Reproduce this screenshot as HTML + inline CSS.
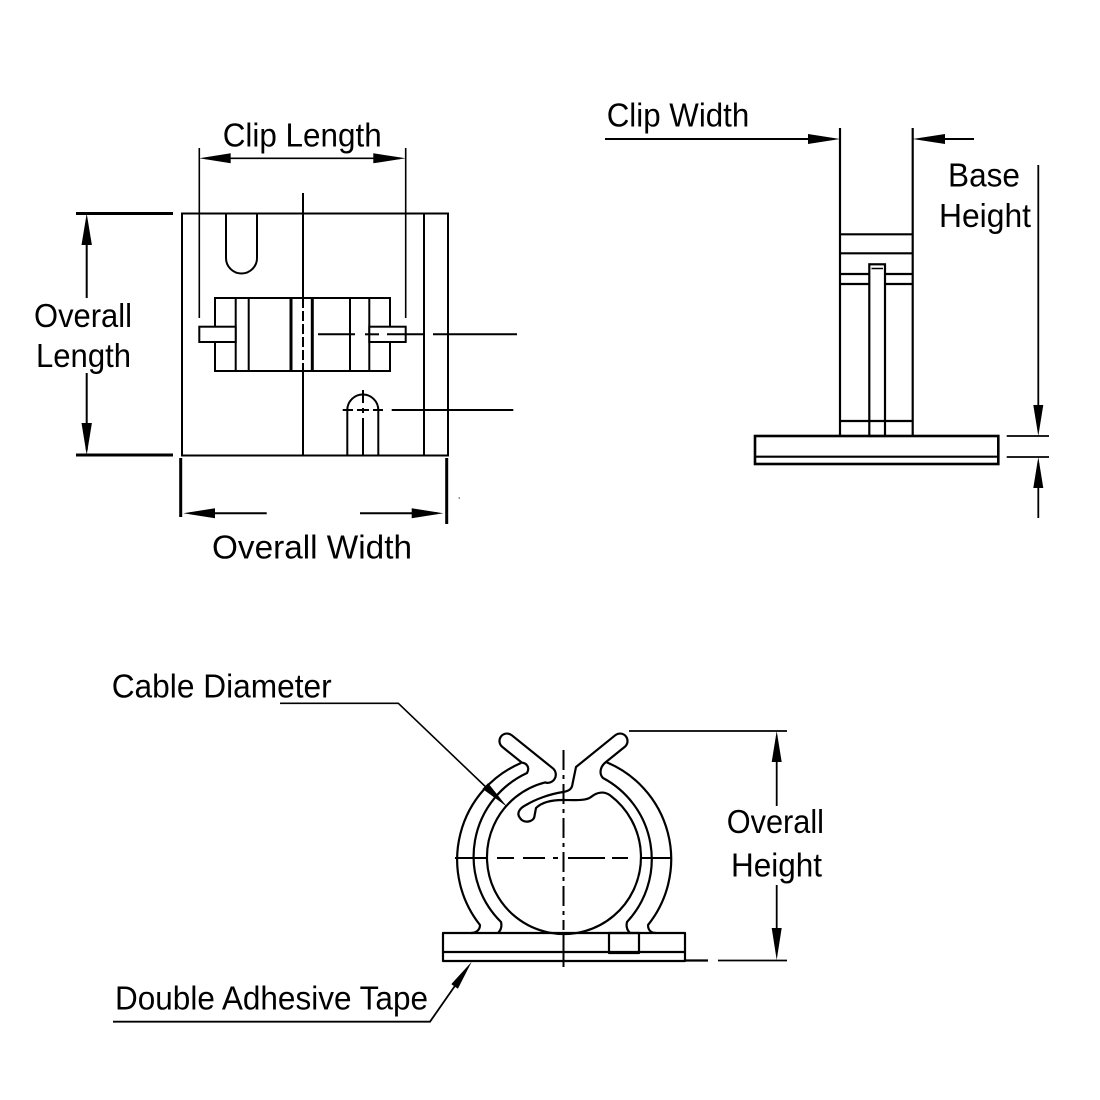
<!DOCTYPE html>
<html>
<head>
<meta charset="utf-8">
<style>
html,body{margin:0;padding:0;background:#fff;}
svg{display:block;}
text{font-family:"Liberation Sans",Arial,sans-serif;font-size:33px;fill:#000;}
</style>
</head>
<body>
<svg width="1100" height="1100" viewBox="0 0 1100 1100" xmlns="http://www.w3.org/2000/svg">
<rect width="1100" height="1100" fill="#fff"/>

<!-- ================= TOP-LEFT VIEW ================= -->
<g stroke="#000" fill="none" stroke-width="2">
  <rect x="182" y="213.5" width="266" height="242"/>
  <line x1="424" y1="213.5" x2="424" y2="455.5"/>
  <!-- center vertical -->
  <line x1="303" y1="193" x2="303" y2="298"/>
  <line x1="303" y1="371" x2="303" y2="455.5"/>
  <!-- top slot -->
  <path d="M226 213.5 V258 A15.5 15.5 0 0 0 257 258 V213.5"/>
  <!-- bottom slot -->
  <path d="M347.3 455.5 V410 A15.5 15.5 0 0 1 378.3 410 V455.5"/>
  <!-- block -->
  <rect x="215" y="298" width="175" height="73" fill="#fff"/>
  <line x1="235.7" y1="298" x2="235.7" y2="371"/>
  <line x1="248.7" y1="298" x2="248.7" y2="371"/>
  <line x1="350" y1="298" x2="350" y2="371"/>
  <line x1="369.3" y1="298" x2="369.3" y2="371"/>
  <line x1="291" y1="298" x2="291" y2="371" stroke-width="3"/>
  <line x1="312.3" y1="298" x2="312.3" y2="371" stroke-width="3"/>
  <line x1="303" y1="298" x2="303" y2="371" stroke-dasharray="10 3"/>
  <!-- tabs -->
  <rect x="199.3" y="326.7" width="36.4" height="15.3" fill="#fff"/>
  <rect x="369.3" y="326.7" width="36.4" height="15.3" fill="#fff"/>
  <!-- dashed center line through block -->
  <line x1="318" y1="334.3" x2="355" y2="334.3"/>
  <line x1="365" y1="334.3" x2="379" y2="334.3"/>
  <line x1="387" y1="334.3" x2="425" y2="334.3"/>
  <line x1="433" y1="334.3" x2="517" y2="334.3"/>
  <!-- bottom slot center lines -->
  <line x1="363" y1="390" x2="363" y2="403"/>
  <line x1="363" y1="408" x2="363" y2="413"/>
  <line x1="363" y1="418" x2="363" y2="455.5"/>
  <line x1="342.7" y1="410" x2="353" y2="410"/>
  <line x1="357" y1="410" x2="369" y2="410"/>
  <line x1="373" y1="410" x2="383" y2="410"/>
  <line x1="391.7" y1="410" x2="513.3" y2="410"/>
</g>

<!-- Clip Length dimension -->
<g stroke="#000" fill="none" stroke-width="1.6">
  <line x1="199.3" y1="148" x2="199.3" y2="318"/>
  <line x1="405.7" y1="148" x2="405.7" y2="318"/>
  <line x1="205" y1="158.3" x2="400" y2="158.3"/>
</g>
<polygon points="199.3,158.3 230.7,153.3 230.7,163.3" fill="#000"/>
<polygon points="405.7,158.3 373.3,153.3 373.3,163.3" fill="#000"/>
<text x="222.7" y="146.7" textLength="159" lengthAdjust="spacingAndGlyphs">Clip Length</text>

<!-- Overall Length dimension -->
<g stroke="#000" fill="none">
  <line x1="76" y1="213.5" x2="173" y2="213.5" stroke-width="3"/>
  <line x1="76" y1="455" x2="173" y2="455" stroke-width="3"/>
  <line x1="86.7" y1="220" x2="86.7" y2="298" stroke-width="2"/>
  <line x1="86.7" y1="373" x2="86.7" y2="450" stroke-width="2"/>
</g>
<polygon points="86.7,213.5 81.5,245 91.9,245" fill="#000"/>
<polygon points="86.7,455 81.5,423 91.9,423" fill="#000"/>
<text x="34" y="327" textLength="98" lengthAdjust="spacingAndGlyphs">Overall</text>
<text x="36" y="367" textLength="95" lengthAdjust="spacingAndGlyphs">Length</text>

<!-- Overall Width dimension -->
<g stroke="#000" fill="none">
  <line x1="180.7" y1="458" x2="180.7" y2="517" stroke-width="3"/>
  <line x1="446.7" y1="458" x2="446.7" y2="524" stroke-width="3"/>
  <line x1="190" y1="513.3" x2="266.7" y2="513.3" stroke-width="2"/>
  <line x1="360" y1="513.3" x2="437" y2="513.3" stroke-width="2"/>
</g>
<polygon points="183.3,513.3 215,508.3 215,518.3" fill="#000"/>
<polygon points="443.3,513.3 411.7,508.3 411.7,518.3" fill="#000"/>
<circle cx="459.3" cy="498" r="0.8" fill="#555"/>
<text x="212" y="558.3" textLength="200" lengthAdjust="spacingAndGlyphs">Overall Width</text>

<!-- ================= TOP-RIGHT VIEW ================= -->
<g stroke="#000" fill="none" stroke-width="2.2">
  <line x1="840" y1="128" x2="840" y2="436"/>
  <line x1="912.7" y1="128" x2="912.7" y2="436"/>
  <line x1="840" y1="234.3" x2="912.7" y2="234.3"/>
  <line x1="840" y1="253.3" x2="912.7" y2="253.3"/>
  <line x1="840" y1="274" x2="869.3" y2="274"/>
  <line x1="885" y1="274" x2="912.7" y2="274"/>
  <line x1="840" y1="284" x2="869.3" y2="284"/>
  <line x1="885" y1="284" x2="912.7" y2="284"/>
  <line x1="840" y1="421" x2="912.7" y2="421"/>
  <rect x="869.3" y="264.3" width="15.7" height="171.7"/>
  <line x1="871.5" y1="268.5" x2="883" y2="268.5" stroke-width="1.5"/>
  <!-- base plate -->
  <rect x="755" y="436" width="243.3" height="28" stroke-width="2.6"/>
  <line x1="755" y1="456.7" x2="998.3" y2="456.7"/>
</g>

<!-- Clip Width dimension -->
<g stroke="#000" fill="none" stroke-width="2">
  <line x1="605" y1="139" x2="834" y2="139"/>
  <line x1="919" y1="139" x2="974" y2="139"/>
</g>
<polygon points="840,139 808,134 808,144" fill="#000"/>
<polygon points="912.7,139 945,134 945,144" fill="#000"/>
<text x="606.7" y="126.7" textLength="142.6" lengthAdjust="spacingAndGlyphs">Clip Width</text>

<!-- Base Height dimension -->
<g stroke="#000" fill="none" stroke-width="1.8">
  <line x1="1006.7" y1="436" x2="1049" y2="436"/>
  <line x1="1006.7" y1="457" x2="1049" y2="457"/>
  <line x1="1038.3" y1="165" x2="1038.3" y2="430"/>
  <line x1="1038.3" y1="463" x2="1038.3" y2="518"/>
</g>
<polygon points="1038.3,436 1033.3,405 1043.3,405" fill="#000"/>
<polygon points="1038.3,457 1033.3,488 1043.3,488" fill="#000"/>
<text x="948" y="186.5" textLength="72" lengthAdjust="spacingAndGlyphs">Base</text>
<text x="939" y="227" textLength="92" lengthAdjust="spacingAndGlyphs">Height</text>

<!-- ================= BOTTOM VIEW ================= -->
<g stroke="#000" fill="none" stroke-width="2.2" stroke-linejoin="round">
  <!-- base -->
  <rect x="443" y="933" width="242" height="28" fill="#fff"/>
  <line x1="443" y1="952" x2="685" y2="952"/>
  <rect x="609" y="933" width="30" height="20"/>
  <!-- right extension of base bottom -->
  <line x1="685" y1="960.5" x2="708" y2="960.5"/>

  <!-- outer arcs -->
  <path d="M471 933 C476 933 480 930 480 925 A105 105 0 0 1 521 763"/>
  <path d="M606 762 A105 105 0 0 1 648 925 C648 930 651 933 656 933"/>

  <!-- main continuous contour -->
  <path d="M498 933
           C501 930 502 926 501 922
           A92 92 0 0 1 527 773
           C530 768 527 763 521.8 762.6
           L502.3 746.9
           A7.5 7.5 0 0 1 511.7 735.2
           L552.7 768.2
           A8.2 8.2 0 0 1 545 782.4
           A77 77 0 1 0 610 795.3
           C604 791 597 792 591 797
           C586 801 575 800 563 800
           C550 800 541 803 536 808
           L534.5 816
           C534 822 524 824 520 818
           C516 813 520 808 526 805
           C536 799 550 794 563 792
           C569 791 572 789 572.5 784
           L576 767
           L615.3 735.2
           A7.5 7.5 0 0 1 624.7 746.9
           L605.2 762.6
           C600 767 599 774 603 778
           A92 92 0 0 1 627 922
           C626 926 627 930 630 933"/>
</g>

<!-- center lines bottom view -->
<g stroke="#000" fill="none" stroke-width="2">
  <line x1="563.5" y1="750" x2="563.5" y2="930" stroke-dasharray="20 5 4 5"/>
  <line x1="563.5" y1="933" x2="563.5" y2="967"/>
  <line x1="455" y1="858" x2="488" y2="858"/>
  <line x1="497" y1="858" x2="514" y2="858"/>
  <line x1="523" y1="858" x2="545" y2="858"/>
  <line x1="553" y1="858" x2="558" y2="858"/>
  <line x1="568" y1="858" x2="605" y2="858"/>
  <line x1="612" y1="858" x2="628" y2="858"/>
  <line x1="640" y1="858" x2="672" y2="858"/>
</g>

<!-- Overall Height dimension -->
<g stroke="#000" fill="none" stroke-width="1.8">
  <line x1="629" y1="731" x2="787" y2="731"/>
  <line x1="718" y1="960.5" x2="787" y2="960.5"/>
  <line x1="776.7" y1="740" x2="776.7" y2="806"/>
  <line x1="776.7" y1="885" x2="776.7" y2="952"/>
</g>
<polygon points="776.7,731 771.7,762 781.7,762" fill="#000"/>
<polygon points="776.7,960 771.7,928 781.7,928" fill="#000"/>
<text x="726.7" y="833" textLength="97.3" lengthAdjust="spacingAndGlyphs">Overall</text>
<text x="731" y="876.5" textLength="91" lengthAdjust="spacingAndGlyphs">Height</text>

<!-- Cable Diameter leader -->
<g stroke="#000" fill="none" stroke-width="1.6">
  <polyline points="280,703.3 398.3,703.3 490,791"/>
</g>
<polygon points="507,806.7 482.5,788.9 488.1,783.1" fill="#000"/>
<text x="111.7" y="697.5" textLength="220" lengthAdjust="spacingAndGlyphs">Cable Diameter</text>

<!-- Double Adhesive Tape leader -->
<g stroke="#000" fill="none" stroke-width="1.8">
  <polyline points="113,1021.7 430,1021.7 458,981.5"/>
</g>
<polygon points="471.7,961.7 457.9,988.7 451.3,984.1" fill="#000"/>
<text x="115" y="1009.5" textLength="313" lengthAdjust="spacingAndGlyphs">Double Adhesive Tape</text>

</svg>
</body>
</html>
